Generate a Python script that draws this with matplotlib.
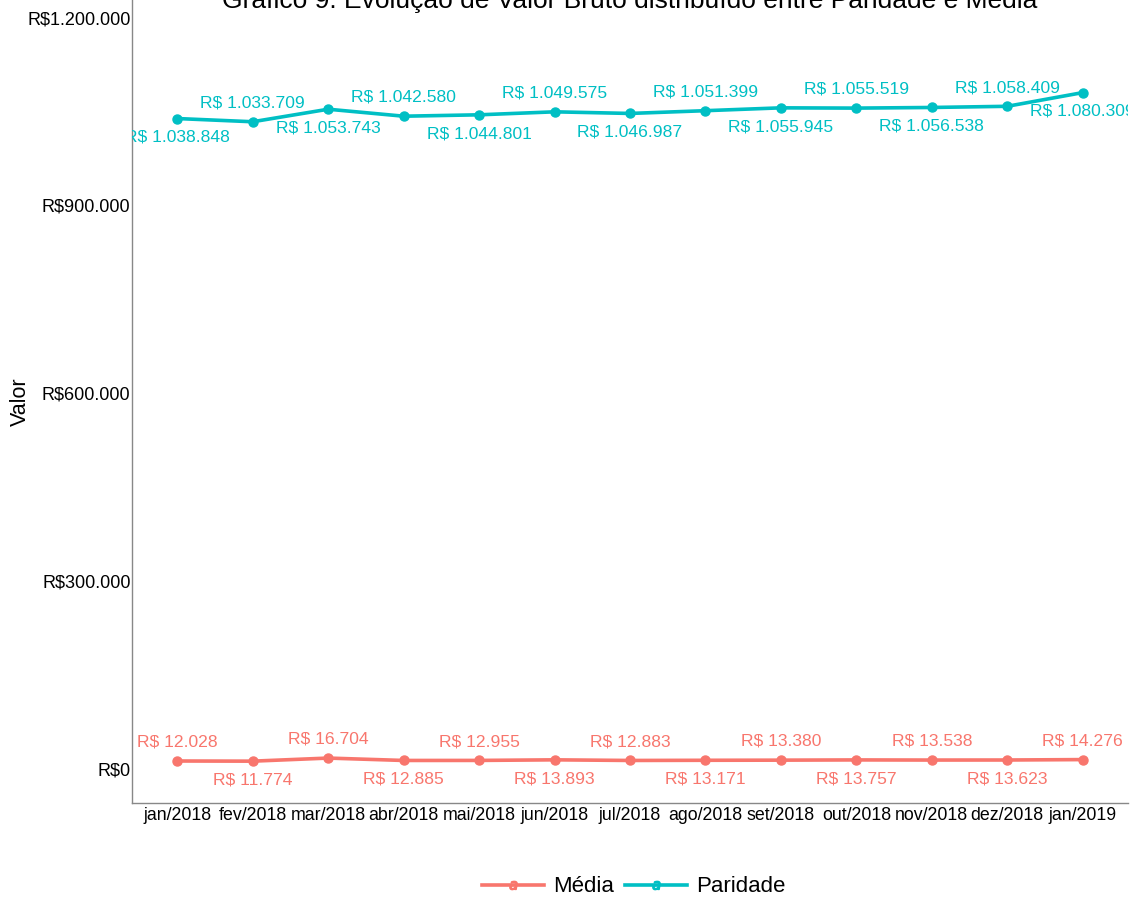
import numpy as np
import matplotlib.pyplot as plt
from matplotlib.lines import Line2D

plt.rcParams['font.family'] = ['Liberation Sans', 'DejaVu Sans']

# Data
meses = ['jan/2018', 'fev/2018', 'mar/2018', 'abr/2018', 'mai/2018', 'jun/2018',
         'jul/2018', 'ago/2018', 'set/2018', 'out/2018', 'nov/2018', 'dez/2018',
         'jan/2019']
paridade = [1038848, 1033709, 1053743, 1042580, 1044801, 1049575, 1046987,
            1051399, 1055945, 1055519, 1056538, 1058409, 1080309]
media = [12028, 11774, 16704, 12885, 12955, 13893, 12883, 13171, 13380,
         13757, 13538, 13623, 14276]

yticks = [0, 300000, 600000, 900000, 1200000]

c_media = '#F8766D'
c_par = '#00BFC4'

def brl(v):
    return 'R$ ' + f'{v:,}'.replace(',', '.')

def brl_tick(v):
    return 'R$' + f'{int(v):,}'.replace(',', '.')

fig = plt.figure(figsize=(11.37, 9.01), dpi=100)
ax = fig.add_axes([132 / 1137, 1 - 803 / 901, (1128 - 132) / 1137, 803 / 901])

x = np.arange(len(meses))
ax.plot(x, media, color=c_media, lw=2.6, marker='o', ms=6.5)
ax.plot(x, paridade, color=c_par, lw=2.6, marker='o', ms=6.5)

# alternate labels above / below the points
nudge = 30000
for i in x:
    s = 1 if i % 2 else -1
    ax.text(i, paridade[i] + s * nudge, brl(paridade[i]), color=c_par,
            fontsize=12.6, ha='center', va='center', clip_on=True)
    ax.text(i, media[i] - s * nudge, brl(media[i]), color=c_media,
            fontsize=12.6, ha='center', va='center', clip_on=True)

ax.set_xlim(-0.6, len(meses) - 0.4)
ax.set_ylim(-55100, 1228300)
ax.set_xticks(x)
ax.set_xticklabels(meses, fontsize=12.8)
ax.set_yticks(yticks)
ax.set_yticklabels([brl_tick(v) for v in yticks], fontsize=13)
ax.tick_params(length=0)
ax.tick_params(axis='y', pad=1)
ax.tick_params(axis='x', pad=3)
for sp in ['top', 'right']:
    ax.spines[sp].set_visible(False)
for sp in ['left', 'bottom']:
    ax.spines[sp].set_color('#888888')
    ax.spines[sp].set_linewidth(1.0)
ax.set_ylabel('Valor', fontsize=15.5)
ax.yaxis.set_label_coords(-101 / 996, 0.5)

fig.text(0.554, 1 - 8 / 901, 'Gráfico 9: Evolução de Valor Bruto distribuído entre Paridade e Média',
         fontsize=19, ha='center', va='baseline')

handles = [Line2D([0], [0], color=c_media, lw=2.6, marker='$a$', ms=6),
           Line2D([0], [0], color=c_par, lw=2.6, marker='$a$', ms=6)]
fig.legend(handles, ['Média', 'Paridade'], loc='center', bbox_to_anchor=(0.557, 1 - 887 / 901),
           ncol=2, frameon=False, fontsize=16, handlelength=2.8, columnspacing=0.5,
           handletextpad=0.4)

plt.savefig('out.png', dpi=100)
